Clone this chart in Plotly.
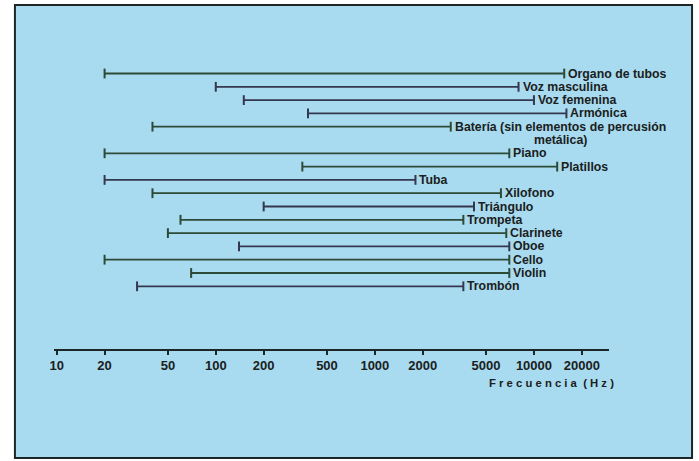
import math
import plotly.graph_objects as go

# frequency ranges (Hz)
instrumentos = ["Organo de tubos", "Voz masculina", "Voz femenina", "Armónica",
                "Batería (sin elementos de percusión", "Piano", "Platillos",
                "Tuba", "Xilofono", "Triángulo", "Trompeta", "Clarinete", "Oboe",
                "Cello", "Violin", "Trombón"]
# second line of the Batería label
nota_bateria = "metálica)"
f_min = [20, 100, 150, 380, 40, 20, 350, 20, 40, 200, 60, 50, 140, 20, 70, 32]
f_max = [15500, 8000, 10000, 16000, 3000, 7000, 14000, 1800, 6200, 4200, 3600, 6700, 7000, 7000, 7000, 3600]

tick_vals = [10, 20, 50, 100, 200, 500, 1000, 2000, 5000, 10000, 20000]
tick_text = [str(v) for v in tick_vals]

GREEN = "#2c4a36"
NAVY = "#35364f"
colors = [GREEN, NAVY, NAVY, NAVY, GREEN, GREEN, GREEN, NAVY, GREEN, NAVY,
          GREEN, GREEN, NAVY, GREEN, GREEN, NAVY]
TXT = "#1b2020"
FONT = "Liberation Sans"
LBL = dict(family=FONT, size=12.3, color=TXT, weight="bold")

W, H = 699, 461
fig = go.Figure()

# row positions: one empty row after the two-line Batería label
rows = [i + (1 if i > 4 else 0) for i in range(len(instrumentos))]

for name, lo, hi, r, c in zip(instrumentos, f_min, f_max, rows, colors):
    fig.add_trace(go.Scatter(
        x=[lo, hi], y=[r, r], mode="lines+markers",
        line=dict(color=c, width=1.8),
        marker=dict(symbol="line-ns-open", size=7, line=dict(color=c, width=2)),
        showlegend=False, hoverinfo="skip", cliponaxis=False))
    # annotations on a log axis take log10 positions
    fig.add_annotation(
        x=math.log10(hi), y=r, xref="x", yref="y", text=name, showarrow=False,
        xanchor="left", yanchor="middle", xshift=2,
        font=LBL)

# second line of Batería, centred under the first one
ib = 4
fig.add_annotation(
    x=math.log10(f_max[ib]), y=rows[ib] + 1, xref="x", yref="y",
    text=nota_bateria, showarrow=False, xanchor="center", yanchor="middle",
    xshift=110, font=LBL)

# frame of the printed figure
fig.add_shape(type="rect", xref="paper", yref="paper",
              x0=11 / W, x1=692 / W, y0=1 - 458 / H, y1=1 - 5 / H,
              fillcolor="#a8dbf0", line=dict(color="#1c2626", width=2), layer="below")

fig.add_annotation(x=551 / W, y=1 - 383 / H, xref="paper", yref="paper",
                   xanchor="center", yanchor="middle",
                   text="F r e c u e n c i a  ( H z )", showarrow=False,
                   font=dict(family=FONT, size=11.3, color=TXT, weight="bold"))

step = 13.3
y0 = 73.5
fig.update_layout(
    width=W, height=H,
    margin=dict(l=0, r=0, t=0, b=0, pad=0),
    paper_bgcolor="white", plot_bgcolor="rgba(0,0,0,0)",
    xaxis=dict(type="log", domain=[50 / W, 608 / W], range=[0.98125, 4.46875],
               anchor="free", position=1 - 350 / H,
               showgrid=False, zeroline=False, showline=True,
               linecolor="#1c2626", linewidth=1.5,
               ticks="outside", ticklen=4, tickwidth=1.5, tickcolor="#1c2626",
               tickvals=tick_vals, ticktext=tick_text,
               tickfont=dict(family=FONT, size=13, color=TXT, weight="bold")),
    yaxis=dict(visible=False, range=[(H - y0) / step, -y0 / step]),
)

fig.write_html("out.html", config={"displayModeBar": False},
               post_script="document.body.style.margin='0';document.body.style.overflow='hidden';")
